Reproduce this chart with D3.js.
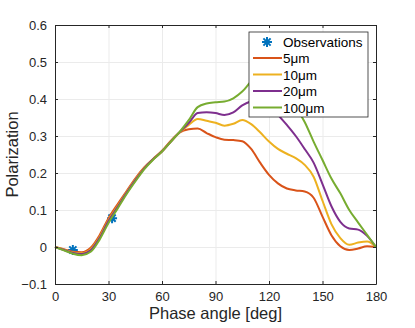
<!DOCTYPE html>
<html>
<head>
<meta charset="utf-8">
<script src="https://cdn.jsdelivr.net/npm/d3@7"></script>
<style>
  body { margin: 0; background: #fff; }
  svg { font-family: "Liberation Sans", Arial, sans-serif; }
  .grid line { stroke: #ebebeb; }
  .grid path { display: none; }
  .axis path, .axis line { stroke: #262626; }
  .axis text { fill: #262626; font-size: 13px; }
</style>
</head>
<body>
<svg></svg>
<script>
const angles = d3.range(0, 181, 5);

const pol5 = [0, -0.006, -0.013, -0.014, -0.002, 0.032, 0.078, 0.115, 0.15, 0.185, 0.215, 0.238, 0.26, 0.287, 0.31,
  0.318, 0.32, 0.308, 0.297, 0.29, 0.289, 0.286, 0.265, 0.228, 0.195, 0.172, 0.158, 0.153, 0.15, 0.133,
  0.082, 0.032, 0.002, -0.008, -0.004, 0.002, 0];
const pol10 = [0, -0.007, -0.015, -0.017, -0.006, 0.027, 0.073, 0.11, 0.147, 0.182, 0.213, 0.237, 0.258, 0.285, 0.31,
  0.33, 0.346, 0.341, 0.336, 0.328, 0.333, 0.343, 0.332, 0.31, 0.285, 0.265, 0.252, 0.24, 0.222, 0.19,
  0.125, 0.062, 0.024, 0.006, 0.012, 0.015, 0];
const pol20 = [0, -0.008, -0.016, -0.019, -0.009, 0.024, 0.07, 0.107, 0.145, 0.18, 0.212, 0.237, 0.258, 0.285, 0.311,
  0.335, 0.362, 0.364, 0.362, 0.357, 0.364, 0.383, 0.394, 0.4, 0.39, 0.358, 0.33, 0.3, 0.265, 0.228,
  0.17, 0.11, 0.068, 0.05, 0.047, 0.03, 0];
const pol100 = [0, -0.009, -0.018, -0.022, -0.013, 0.02, 0.065, 0.103, 0.142, 0.177, 0.21, 0.236, 0.258, 0.285, 0.312,
  0.343, 0.378, 0.388, 0.391, 0.393, 0.402, 0.42, 0.447, 0.462, 0.46, 0.44, 0.41, 0.378, 0.338, 0.285,
  0.235, 0.185, 0.145, 0.1, 0.066, 0.033, 0];

const obsAngle = [10, 32];
const obsPol = [-0.008, 0.078];

const seriesNames = ['5μm', '10μm', '20μm', '100μm'];
const seriesValues = [pol5, pol10, pol20, pol100];
const colors = ['#D95319', '#EDB120', '#7E2F8E', '#77AC30'];
const obsColor = '#0072BD';

const xTicks = [0, 30, 60, 90, 120, 150, 180];
const yTicks = [-0.1, 0, 0.1, 0.2, 0.3, 0.4, 0.5, 0.6];

const W = 415, H = 328;
const mLeft = 55, mRight = 376, mTop = 25, mBottom = 284;

const x = d3.scaleLinear().domain([0, 180]).range([mLeft, mRight]);
const y = d3.scaleLinear().domain([-0.1, 0.6]).range([mBottom, mTop]);

const svg = d3.select('svg').attr('width', W).attr('height', H);

// grid
svg.append('g').attr('class', 'grid')
  .attr('transform', `translate(0,${mBottom})`)
  .call(d3.axisBottom(x).tickValues(xTicks).tickSize(-(mBottom - mTop)).tickFormat(''));
svg.append('g').attr('class', 'grid')
  .attr('transform', `translate(${mLeft},0)`)
  .call(d3.axisLeft(y).tickValues(yTicks).tickSize(-(mRight - mLeft)).tickFormat(''));

// observations (drawn under the lines)
const star = 'M-5,0L5,0M0,-5L0,5M-3.6,-3.6L3.6,3.6M-3.6,3.6L3.6,-3.6';
svg.append('g').selectAll('path')
  .data(obsAngle)
  .enter()
  .append('path')
  .attr('d', star)
  .attr('transform', (d, i) => `translate(${x(d)},${y(obsPol[i])})`)
  .attr('stroke', obsColor)
  .attr('stroke-width', 2)
  .attr('fill', 'none');

const line = d3.line()
  .x((d, i) => x(angles[i]))
  .y(d => y(d))
  .curve(d3.curveMonotoneX);

svg.append('g').selectAll('path')
  .data(seriesValues)
  .enter()
  .append('path')
  .attr('d', d => line(d))
  .attr('fill', 'none')
  .attr('stroke', (d, i) => colors[i])
  .attr('stroke-width', 2);

// axes with inward ticks
svg.append('g').attr('class', 'axis')
  .attr('transform', `translate(0,${mBottom})`)
  .call(d3.axisBottom(x).tickValues(xTicks).tickSizeInner(-3).tickSizeOuter(0).tickPadding(8));
svg.append('g').attr('class', 'axis')
  .attr('transform', `translate(${mLeft},0)`)
  .call(d3.axisLeft(y).tickValues(yTicks).tickSizeInner(-3).tickSizeOuter(0).tickPadding(8)
    .tickFormat(d => d3.format('')(+d.toFixed(1))));
svg.append('g').attr('class', 'axis')
  .attr('transform', `translate(0,${mTop})`)
  .call(d3.axisTop(x).tickValues(xTicks).tickSizeInner(-3).tickSizeOuter(0).tickFormat(''));
svg.append('g').attr('class', 'axis')
  .attr('transform', `translate(${mRight},0)`)
  .call(d3.axisRight(y).tickValues(yTicks).tickSizeInner(-3).tickSizeOuter(0).tickFormat(''));

// labels
svg.append('text')
  .attr('x', (mLeft + mRight) / 2)
  .attr('y', 319)
  .attr('text-anchor', 'middle')
  .attr('font-size', 16.5)
  .attr('fill', '#262626')
  .text('Phase angle [deg]');
svg.append('text')
  .attr('transform', `translate(18,${(mTop + mBottom) / 2}) rotate(-90)`)
  .attr('text-anchor', 'middle')
  .attr('font-size', 16.5)
  .attr('fill', '#262626')
  .text('Polarization');

// legend
const lg = svg.append('g').attr('transform', 'translate(249,32)');
lg.append('rect')
  .attr('width', 119).attr('height', 85)
  .attr('fill', '#fff').attr('stroke', '#262626').attr('stroke-width', 0.8);
lg.append('path')
  .attr('d', star)
  .attr('transform', 'translate(18,10)')
  .attr('stroke', obsColor).attr('stroke-width', 2).attr('fill', 'none');
lg.append('text')
  .attr('x', 34).attr('y', 15)
  .attr('font-size', 13.5).attr('fill', '#000')
  .text('Observations');
lg.selectAll('.entry')
  .data(seriesNames)
  .enter()
  .append('g')
  .attr('transform', (d, i) => `translate(0,${26 + i * 16.5})`)
  .each(function (d, i) {
    const g = d3.select(this);
    g.append('line').attr('x1', 4).attr('x2', 33)
      .attr('stroke', colors[i]).attr('stroke-width', 2);
    g.append('text').attr('x', 34).attr('y', 5)
      .attr('font-size', 13.5).attr('fill', '#000').text(d);
  });
</script>
</body>
</html>
